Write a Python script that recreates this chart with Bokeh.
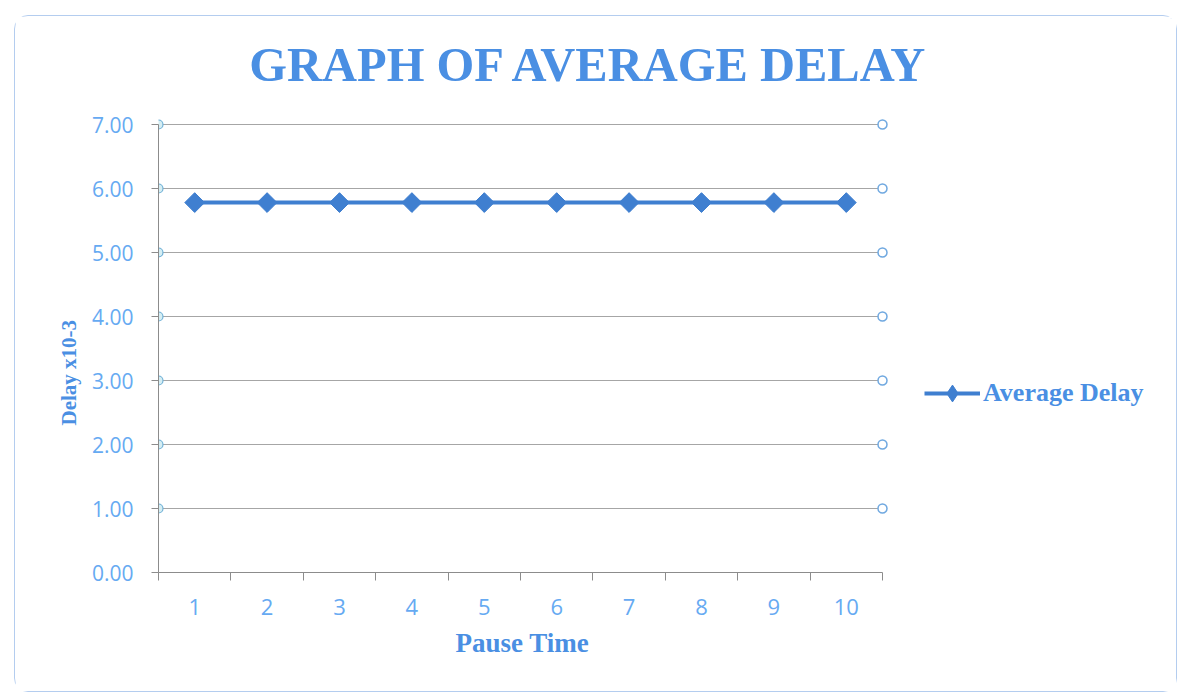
import math
from bokeh.plotting import figure
from bokeh.models import Range1d, FixedTicker, Legend, LegendItem, Title, Label
from bokeh.embed import file_html
from bokeh.resources import INLINE

# ---- data ----
categories = [1, 2, 3, 4, 5, 6, 7, 8, 9, 10]
average_delay = [5.78, 5.78, 5.78, 5.78, 5.78, 5.78, 5.78, 5.78, 5.78, 5.78]
y_ticks = [0, 1, 2, 3, 4, 5, 6, 7]
y_tick_labels = ["0.00", "1.00", "2.00", "3.00", "4.00", "5.00", "6.00", "7.00"]
x_tick_labels = ["1", "2", "3", "4", "5", "6", "7", "8", "9", "10"]
title_text = "GRAPH OF AVERAGE DELAY"
x_label = "Pause Time"
y_label = "Delay x10-3"
series_name = "Average Delay"

# ---- styling / geometry ----
TITLE_BLUE = "#4a8fe3"
TICK_BLUE = "#66aaf2"
LINE_BLUE = "#3f7fd0"
GRID = "#a6a6a6"
AXIS = "#8c8c8c"

W, H = 1163, 677
MB_LEFT, MB_RIGHT, MB_TOP, MB_BOTTOM = 143, 2, 2, 121
PX_X = 72.4   # pixels per category
PX_Y = 64.0   # pixels per y unit

x0 = categories[0] - 0.5
x1 = categories[-1] + 0.5
ytop = y_ticks[-1]
x_end = x0 + (W - MB_LEFT - MB_RIGHT) / PX_X
y_end = y_ticks[0] + (H - MB_TOP - MB_BOTTOM) / PX_Y

p = figure(width=W, height=H, output_backend="svg", toolbar_location=None,
           x_range=Range1d(x0, x_end), y_range=Range1d(y_ticks[0], y_end),
           min_border_left=MB_LEFT, min_border_right=MB_RIGHT,
           min_border_top=MB_TOP, min_border_bottom=MB_BOTTOM,
           background_fill_color="white", border_fill_color="white",
           margin=(15, 0, 0, 14))
p.outline_line_color = None
p.styles = {"border": "1px solid #b4cdef", "border-radius": "14px"}

# x axis: labels at categories, tick marks at category boundaries
p.xaxis.bounds = (x0, x1)
p.xaxis.ticker = FixedTicker(ticks=categories,
                             minor_ticks=[c - 0.5 for c in categories] + [x1])
p.xaxis.major_label_overrides = {c: l for c, l in zip(categories, x_tick_labels)}
p.xaxis.major_tick_line_color = None
p.xaxis.major_tick_out = 0
p.xaxis.major_tick_in = 0
p.xaxis.minor_tick_line_color = AXIS
p.xaxis.minor_tick_out = 8
p.xaxis.minor_tick_in = 0
p.xaxis.axis_line_color = AXIS
p.xaxis.major_label_standoff = 18
p.xaxis.major_label_text_font = "Open Sans"
p.xaxis.major_label_text_font_size = "22px"
p.xaxis.major_label_text_color = TICK_BLUE

# x axis title (left-aligned with an offset so it sits under the category area)
p.add_layout(Title(text=x_label, align="left", offset=297, standoff=17,
                   text_font="Liberation Serif", text_font_style="bold",
                   text_font_size="27px", text_color=TITLE_BLUE), "below")

# y axis
p.yaxis.ticker = FixedTicker(ticks=y_ticks)
p.yaxis.bounds = (y_ticks[0], ytop)
p.yaxis.major_label_overrides = {t: l for t, l in zip(y_ticks, y_tick_labels)}
p.yaxis.minor_tick_line_color = None
p.yaxis.major_tick_line_color = AXIS
p.yaxis.major_tick_out = 7
p.yaxis.major_tick_in = 0
p.yaxis.axis_line_color = AXIS
p.yaxis.major_label_standoff = 18
p.yaxis.major_label_text_font = "Open Sans"
p.yaxis.major_label_text_font_size = "21px"
p.yaxis.major_label_text_color = TICK_BLUE

# y axis title, placed lower than the frame centre as in the reference
p.add_layout(Title(text=y_label, align="left", offset=147, standoff=16,
                   text_font="Liberation Serif", text_font_style="bold",
                   text_font_size="21px", text_color=TITLE_BLUE), "left")

# horizontal gridlines only across the category area
p.xgrid.grid_line_color = None
p.ygrid.grid_line_color = None
hy = y_ticks[1:]
p.segment(x0=[x0] * len(hy), y0=hy, x1=[x1] * len(hy), y1=hy,
          line_color=GRID, line_width=1)

# gridline end handles
p.scatter([x0] * len(hy), hy, size=9, marker="circle", fill_color="#d6eef3",
          line_color="#6fb0d6", line_width=1.2)
p.scatter([x1] * len(hy), hy, size=9, marker="circle", fill_color="white",
          line_color="#6fa8e0", line_width=1.5)

# series
r_line = p.line(categories, average_delay, line_color=LINE_BLUE, line_width=4)
# diamond markers (hidden under the rotated squares) that give the legend its swatch
r_key = p.scatter(categories, average_delay, marker="diamond", size=18,
                  fill_color=LINE_BLUE, line_color=LINE_BLUE)
r_pts = p.scatter(categories, average_delay, marker="square", angle=math.pi / 4,
                  size=14, fill_color=LINE_BLUE, line_color=LINE_BLUE)

legend = Legend(items=[LegendItem(label=series_name, renderers=[r_line, r_key])],
                location=(766, 158), orientation="vertical")
legend.border_line_color = None
legend.background_fill_alpha = 0
legend.padding = 0
legend.margin = 0
legend.glyph_width = 56
legend.glyph_height = 42
legend.label_height = 42
legend.label_standoff = 3
legend.label_text_font = "Liberation Serif"
legend.label_text_font_style = "bold"
legend.label_text_font_size = "26px"
legend.label_text_color = TITLE_BLUE
p.add_layout(legend, "center")

# chart title, inside the (extended) frame area
p.add_layout(Label(x=x0 + (589 - 158) / PX_X, y=(572 - 64) / PX_Y, text=title_text,
                   text_align="center", text_baseline="alphabetic",
                   text_font="Liberation Serif", text_font_style="bold",
                   text_font_size="48.5px", text_color=TITLE_BLUE))

open("out.html", "w").write(file_html(p, INLINE))
